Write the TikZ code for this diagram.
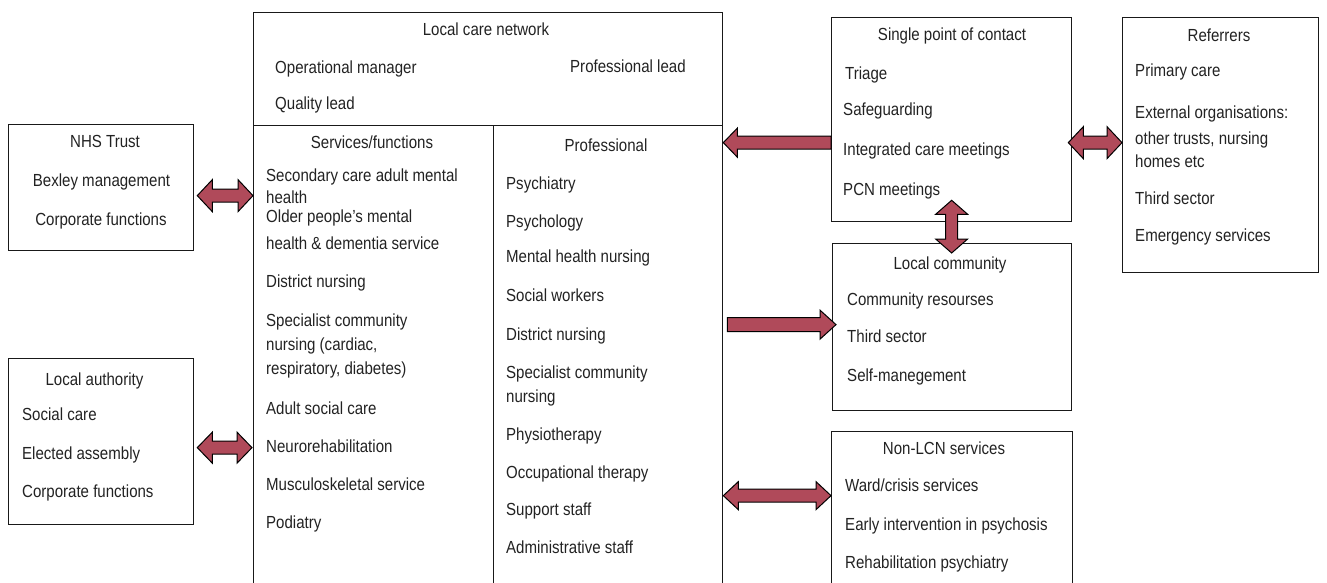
\documentclass[tikz,border=0pt]{standalone}
\usepackage{fontspec}
\setmainfont{Liberation Sans}[FakeStretch=0.86]
\usetikzlibrary{calc}
\definecolor{arrowred}{RGB}{176,74,90}
\definecolor{ink}{RGB}{34,34,34}

% horizontal double block arrow: left tip, right tip, head length, half head, half shaft
\newcommand\hdbl[5]{%
  \filldraw[blockarrow] #1 -- ++(#3,-#4) -- ++(0,#4-#5) -- ($#2+(-#3,-#5)$)
    -- ++(0,#5-#4) -- #2 -- ++(-#3,#4) -- ++(0,#5-#4) -- ($#1+(#3,#5)$)
    -- ++(0,#4-#5) -- cycle;}
% block arrow pointing left: tip, tail
\newcommand\hleft[5]{%
  \filldraw[blockarrow] #1 -- ++(#3,-#4) -- ++(0,#4-#5) -- ($#2+(0,-#5)$)
    -- ($#2+(0,#5)$) -- ($#1+(#3,#5)$) -- ++(0,#4-#5) -- cycle;}
% block arrow pointing right: tail, tip
\newcommand\hright[5]{%
  \filldraw[blockarrow] ($#1+(0,-#5)$) -- ($#2+(-#3,-#5)$) -- ++(0,#5-#4) -- #2
    -- ++(-#3,#4) -- ++(0,#5-#4) -- ($#1+(0,#5)$) -- cycle;}
% vertical double block arrow: top tip, bottom tip
\newcommand\vdbl[5]{%
  \filldraw[blockarrow] #1 -- ++(#4,#3) -- ++(#5-#4,0) -- ($#2+(#5,-#3)$)
    -- ++(#4-#5,0) -- #2 -- ++(-#4,-#3) -- ++(#4-#5,0) -- ($#1+(-#5,#3)$)
    -- ++(#5-#4,0) -- cycle;}

\begin{document}
\begin{tikzpicture}[x=1pt,y=-1pt,
  box/.style={draw=black!90, line width=1.3pt, anchor=north west, inner sep=0pt},
  lbl/.style={anchor=base west, inner sep=0pt, text=ink,
              font=\fontsize{17.5}{21}\selectfont},
  ttl/.style={anchor=base, inner sep=0pt, text=ink,
              font=\fontsize{17.5}{21}\selectfont},
  blockarrow/.style={fill=arrowred, draw=black, line width=1pt, line join=miter}]
\useasboundingbox (0,0) rectangle (1327,583);
\clip (0,0) rectangle (1327,583);

% ---------- boxes ----------
\node[box, minimum width=185, minimum height=126] (nhs) at (8,124) {};
\node[box, minimum width=185, minimum height=166] (la) at (8,358) {};
\node[box, minimum width=469, minimum height=113] (lcn) at (253,12) {};
\node[box, minimum width=240, minimum height=500] (svc) at (253,125) {};
\node[box, minimum width=229, minimum height=500] (prof) at (493,125) {};
\node[box, minimum width=240, minimum height=204] (spoc) at (831,17) {};
\node[box, minimum width=196, minimum height=255] (ref) at (1122,17) {};
\node[box, minimum width=239, minimum height=167] (comm) at (832,243) {};
\node[box, minimum width=241, minimum height=200] (nonlcn) at (831,431) {};

% ---------- Local care network ----------
\node[ttl] (lcnT) at (486,36) {Local care network};
\node[lbl] (lcn1) at (275,74) {Operational manager};
\node[lbl] (lcn2) at (570,72.7) {Professional lead};
\node[lbl] (lcn3) at (275,110) {Quality lead};

% ---------- Services/functions ----------
\node[ttl] (svcT) at (372,149) {Services/functions};
\node[lbl] (s1) at (266,181) {Secondary care adult mental};
\node[lbl] (s1b) at (266,203) {health};
\node[lbl] (s2) at (266,222) {Older people’s mental};
\node[lbl] (s2b) at (266,249) {health \& dementia service};
\node[lbl] (s3) at (266,287) {District nursing};
\node[lbl] (s4) at (266,326) {Specialist community};
\node[lbl] (s4b) at (266,350) {nursing (cardiac,};
\node[lbl] (s4c) at (266,374) {respiratory, diabetes)};
\node[lbl] (s5) at (266,414) {Adult social care};
\node[lbl] (s6) at (266,452) {Neurorehabilitation};
\node[lbl] (s7) at (266,490) {Musculoskeletal service};
\node[lbl] (s8) at (266,528) {Podiatry};

% ---------- Professional ----------
\node[ttl] (profT) at (606,151) {Professional};
\node[lbl] (p1) at (506,189) {Psychiatry};
\node[lbl] (p2) at (506,227) {Psychology};
\node[lbl] (p3) at (506,262) {Mental health nursing};
\node[lbl] (p4) at (506,301) {Social workers};
\node[lbl] (p5) at (506,340) {District nursing};
\node[lbl] (p6) at (506,378) {Specialist community};
\node[lbl] (p6b) at (506,402) {nursing};
\node[lbl] (p7) at (506,440) {Physiotherapy};
\node[lbl] (p8) at (506,478) {Occupational therapy};
\node[lbl] (p9) at (506,515) {Support staff};
\node[lbl] (p10) at (506,553) {Administrative staff};

% ---------- NHS Trust ----------
\node[ttl] (nhsT) at (105,147.7) {NHS Trust};
\node[ttl] (nhs1) at (101.5,186) {Bexley management};
\node[ttl] (nhs2) at (101,225) {Corporate functions};

% ---------- Local authority ----------
\node[ttl] (laT) at (94.5,385.7) {Local authority};
\node[lbl] (la1) at (22,420) {Social care};
\node[lbl] (la2) at (22,459) {Elected assembly};
\node[lbl] (la3) at (22,497) {Corporate functions};

% ---------- Single point of contact ----------
\node[ttl] (spocT) at (952,40.7) {Single point of contact};
\node[lbl] (c1) at (845,80) {Triage};
\node[lbl] (c2) at (843,116) {Safeguarding};
\node[lbl] (c3) at (843,155) {Integrated care meetings};
\node[lbl] (c4) at (843,195.7) {PCN meetings};

% ---------- Referrers ----------
\node[ttl] (refT) at (1219,41.7) {Referrers};
\node[lbl] (r1) at (1135,76.7) {Primary care};
\node[lbl] (r2) at (1135,118.3) {External organisations:};
\node[lbl] (r2b) at (1135,144) {other trusts, nursing};
\node[lbl] (r2c) at (1135,167.3) {homes etc};
\node[lbl] (r3) at (1135,204.3) {Third sector};
\node[lbl] (r4) at (1135,241.7) {Emergency services};

% ---------- Local community ----------
\node[ttl] (commT) at (950,269) {Local community};
\node[lbl] (m1) at (847,305) {Community resourses};
\node[lbl] (m2) at (847,342.7) {Third sector};
\node[lbl] (m3) at (847,381.7) {Self-manegement};

% ---------- Non-LCN services ----------
\node[ttl] (nonT) at (944,454) {Non-LCN services};
\node[lbl] (n1) at (845,491.7) {Ward/crisis services};
\node[lbl] (n2) at (845,530) {Early intervention in psychosis};
\node[lbl] (n3) at (845,568.3) {Rehabilitation psychiatry};

% ---------- connectors ----------
\coordinate (a1l) at ([xshift=3pt,yshift=-8pt]nhs.east);
\coordinate (a1r) at (svc.west |- a1l);
\hdbl{(a1l)}{(a1r)}{15}{16}{6.5}

\coordinate (a2l) at ([xshift=3pt,yshift=-6pt]la.east);
\coordinate (a2r) at ($(svc.west |- a2l)+(-1,0)$);
\hdbl{(a2l)}{(a2r)}{15}{15.5}{6.5}

\coordinate (a3r) at ([yshift=-23pt]spoc.west);
\coordinate (a3l) at (prof.east |- a3r);
\hleft{(a3l)}{(a3r)}{14}{14.5}{6.5}

\coordinate (a4l) at ([xshift=-4pt,yshift=-23pt]spoc.east);
\coordinate (a4r) at (ref.west |- a4l);
\hdbl{(a4l)}{(a4r)}{15}{16}{6.5}

\coordinate (a5t) at ([yshift=22pt]spoc.south);
\coordinate (a5b) at ($(a5t |- comm.north)+(0,10)$);
\vdbl{(a5t)}{(a5b)}{14}{16}{6}

\coordinate (a6l) at ([xshift=4pt,yshift=51pt]prof.east);
\coordinate (a6r) at ($(comm.west |- a6l)+(4,0)$);
\hright{(a6l)}{(a6r)}{16}{14.5}{7}

\coordinate (a7l) at ([yshift=-120pt]prof.east);
\coordinate (a7r) at (nonlcn.west |- a7l);
\hdbl{(a7l)}{(a7r)}{15}{14}{6.5}
\end{tikzpicture}
\end{document}
